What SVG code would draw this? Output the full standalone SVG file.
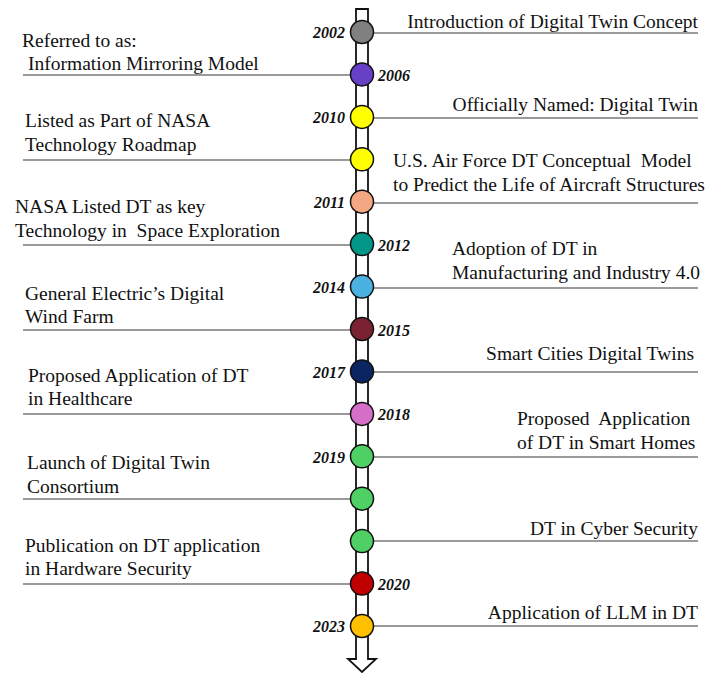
<svg xmlns="http://www.w3.org/2000/svg" width="715" height="673" viewBox="0 0 715 673">
<style>
.t{font-family:"Liberation Serif","Times New Roman",serif;font-size:19.5px;fill:#111;white-space:pre}
.e{text-anchor:end}
.y{font-family:"Liberation Serif","Times New Roman",serif;font-size:16px;font-weight:bold;font-style:italic;fill:#111}
.ln{stroke:#9a9a9a;stroke-width:2;fill:none}
.c{stroke:#111;stroke-width:1.5}
</style>
<rect width="715" height="673" fill="#fff"/>
<g id="connectors">
<line class="ln" x1="372" y1="33" x2="698" y2="33"/>
<line class="ln" x1="23" y1="75" x2="351" y2="75"/>
<line class="ln" x1="372" y1="118" x2="698" y2="118"/>
<line class="ln" x1="23" y1="160" x2="351" y2="160"/>
<line class="ln" x1="372" y1="203" x2="698" y2="203"/>
<line class="ln" x1="23" y1="245" x2="351" y2="245"/>
<line class="ln" x1="372" y1="288" x2="698" y2="288"/>
<line class="ln" x1="23" y1="330" x2="351" y2="330"/>
<line class="ln" x1="372" y1="372" x2="698" y2="372"/>
<line class="ln" x1="23" y1="414" x2="351" y2="414"/>
<line class="ln" x1="372" y1="457" x2="698" y2="457"/>
<line class="ln" x1="23" y1="499" x2="351" y2="499"/>
<line class="ln" x1="372" y1="541" x2="698" y2="541"/>
<line class="ln" x1="23" y1="584" x2="351" y2="584"/>
<line class="ln" x1="372" y1="626" x2="698" y2="626"/>
</g>
<g id="timeline-arrow">
<path d="M356,9 L368,9 L368,659 L376,659 L362,672 L348,659 L356,659 Z" fill="#fff" stroke="#111" stroke-width="1.8" stroke-linejoin="miter"/>
</g>
<g id="n2002"><circle class="c" cx="362" cy="32" r="11.5" fill="#808080"/><text class="y e" x="345" y="38">2002</text><text class="t e" x="698" y="28">Introduction of Digital Twin Concept</text></g>
<g id="n2006"><circle class="c" cx="362" cy="74.4" r="11.5" fill="#6641c8"/><text class="y" x="378" y="81">2006</text><text class="t" x="22" y="47">Referred to as:</text><text class="t" x="28" y="70">Information Mirroring Model</text></g>
<g id="n2010"><circle class="c" cx="362" cy="116.9" r="11.5" fill="#ffff00"/><text class="y e" x="345" y="123">2010</text><text class="t e" x="698" y="111">Officially Named: Digital Twin</text></g>
<g id="n2010b"><circle class="c" cx="362" cy="159.3" r="11.5" fill="#ffff00"/><text class="t" x="25" y="127">Listed as Part of NASA</text><text class="t" x="25" y="151">Technology Roadmap</text></g>
<g id="n2011"><circle class="c" cx="362" cy="201.7" r="11.5" fill="#f3a783"/><text class="y e" x="345" y="208">2011</text><text class="t" x="393" y="167">U.S. Air Force DT Conceptual  Model</text><text class="t" x="393" y="191">to Predict the Life of Aircraft Structures</text></g>
<g id="n2012"><circle class="c" cx="362" cy="244.1" r="11.5" fill="#009688"/><text class="y" x="378" y="251">2012</text><text class="t" x="15" y="213">NASA Listed DT as key</text><text class="t" x="15" y="237">Technology in  Space Exploration</text></g>
<g id="n2014"><circle class="c" cx="362" cy="286.6" r="11.5" fill="#4bb1e1"/><text class="y e" x="345" y="293">2014</text><text class="t" x="452" y="255">Adoption of DT in</text><text class="t" x="452" y="279">Manufacturing and Industry 4.0</text></g>
<g id="n2015"><circle class="c" cx="362" cy="329" r="11.5" fill="#7a2232"/><text class="y" x="378" y="336">2015</text><text class="t" x="25" y="300">General Electric’s Digital</text><text class="t" x="25" y="323">Wind Farm</text></g>
<g id="n2017"><circle class="c" cx="362" cy="371.4" r="11.5" fill="#0b2560"/><text class="y e" x="345" y="378">2017</text><text class="t e" x="694" y="360">Smart Cities Digital Twins</text></g>
<g id="n2018"><circle class="c" cx="362" cy="413.9" r="11.5" fill="#d66fc8"/><text class="y" x="378" y="420">2018</text><text class="t" x="28" y="382">Proposed Application of DT</text><text class="t" x="28" y="405">in Healthcare</text></g>
<g id="n2019"><circle class="c" cx="362" cy="456.3" r="11.5" fill="#4fd064"/><text class="y e" x="345" y="463">2019</text><text class="t" x="517" y="425">Proposed  Application</text><text class="t" x="517" y="449">of DT in Smart Homes</text></g>
<g id="n2019b"><circle class="c" cx="362" cy="498.7" r="11.5" fill="#4fd064"/><text class="t" x="27" y="469">Launch of Digital Twin</text><text class="t" x="27" y="493">Consortium</text></g>
<g id="n2019c"><circle class="c" cx="362" cy="541.1" r="11.5" fill="#4fd064"/><text class="t e" x="698" y="535">DT in Cyber Security</text></g>
<g id="n2020"><circle class="c" cx="362" cy="583.6" r="11.5" fill="#c00000"/><text class="y" x="378" y="590">2020</text><text class="t" x="25" y="552">Publication on DT application</text><text class="t" x="25" y="575">in Hardware Security</text></g>
<g id="n2023"><circle class="c" cx="362" cy="626" r="11.5" fill="#ffc000"/><text class="y e" x="345" y="632">2023</text><text class="t e" x="698" y="619">Application of LLM in DT</text></g>
</svg>
